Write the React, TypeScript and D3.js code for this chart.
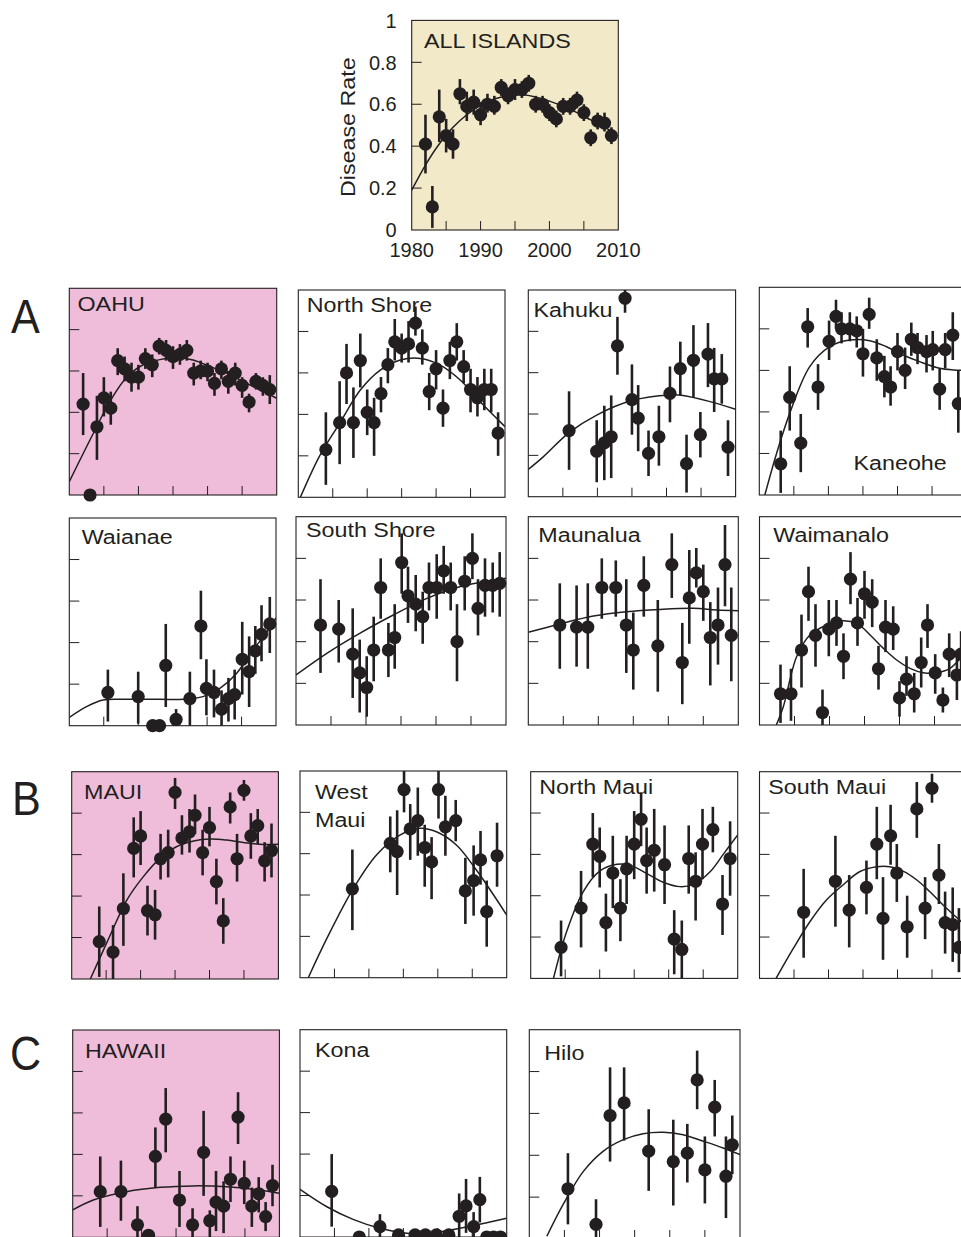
import React, { useEffect, useRef } from 'react';
import * as d3 from 'd3';

// [year, rate, low, high]
type Pt = [number, number, number, number];
type Fit = [number, number][];

const allIslandsPoints: Pt[] = [
  [1982, 0.41, 0.27, 0.55], [1983, 0.11, 0.01, 0.21], [1984, 0.54, 0.42, 0.67], [1985, 0.45, 0.37, 0.53],
  [1986, 0.41, 0.34, 0.48], [1987, 0.65, 0.6, 0.72], [1988, 0.59, 0.52, 0.66], [1989, 0.61, 0.55, 0.67],
  [1990, 0.55, 0.5, 0.61], [1991, 0.6, 0.56, 0.65], [1992, 0.59, 0.55, 0.64], [1993, 0.68, 0.64, 0.72],
  [1994, 0.64, 0.6, 0.68], [1995, 0.67, 0.62, 0.72], [1996, 0.67, 0.63, 0.71], [1997, 0.7, 0.66, 0.74],
  [1998, 0.6, 0.56, 0.64], [1999, 0.6, 0.56, 0.64], [2000, 0.56, 0.52, 0.6], [2001, 0.53, 0.49, 0.57],
  [2002, 0.59, 0.55, 0.63], [2003, 0.59, 0.55, 0.63], [2004, 0.62, 0.58, 0.66], [2005, 0.56, 0.52, 0.6],
  [2006, 0.44, 0.4, 0.48], [2007, 0.52, 0.48, 0.56], [2008, 0.51, 0.47, 0.56], [2009, 0.45, 0.41, 0.49],
];
const allIslandsFit: Fit = [
  [1980, 0.19], [1982, 0.31], [1984, 0.41], [1986, 0.49], [1988, 0.55], [1990, 0.595], [1992, 0.625],
  [1994, 0.64], [1996, 0.645], [1998, 0.635], [2000, 0.615], [2002, 0.59], [2004, 0.56], [2006, 0.525],
  [2008, 0.49], [2009.5, 0.465],
];

const oahuPoints: Pt[] = [
  [1982, 0.44, 0.29, 0.59], [1983, 0.0, 0.0, 0.0], [1984, 0.33, 0.17, 0.48], [1985, 0.47, 0.38, 0.57],
  [1986, 0.42, 0.34, 0.5], [1987, 0.65, 0.58, 0.71], [1988, 0.61, 0.55, 0.67], [1989, 0.57, 0.5, 0.64],
  [1990, 0.57, 0.51, 0.63], [1991, 0.66, 0.61, 0.71], [1992, 0.63, 0.57, 0.68], [1993, 0.72, 0.68, 0.76],
  [1994, 0.7, 0.65, 0.75], [1995, 0.67, 0.61, 0.72], [1996, 0.68, 0.63, 0.73], [1997, 0.7, 0.65, 0.75],
  [1998, 0.59, 0.53, 0.64], [1999, 0.6, 0.56, 0.65], [2000, 0.6, 0.55, 0.64], [2001, 0.54, 0.48, 0.59],
  [2002, 0.61, 0.56, 0.65], [2003, 0.55, 0.49, 0.6], [2004, 0.59, 0.53, 0.64], [2005, 0.53, 0.47, 0.57],
  [2006, 0.45, 0.4, 0.49], [2007, 0.55, 0.51, 0.59], [2008, 0.53, 0.48, 0.57], [2009, 0.51, 0.44, 0.58],
];
const oahuFit: Fit = [
  [1980, 0.065], [1983.5, 0.3], [1986, 0.46], [1988.3, 0.57], [1990.7, 0.63], [1993.1, 0.655],
  [1995.5, 0.665], [1997.9, 0.653], [2000.4, 0.621], [2002.8, 0.589], [2005.2, 0.548], [2010, 0.468],
];

const northShorePoints: Pt[] = [
  [1984, 0.23, 0.06, 0.41], [1986, 0.36, 0.16, 0.56], [1987, 0.6, 0.45, 0.74], [1988, 0.36, 0.19, 0.53],
  [1989, 0.66, 0.53, 0.79], [1990, 0.41, 0.3, 0.52], [1991, 0.36, 0.2, 0.48], [1992, 0.5, 0.41, 0.58],
  [1993, 0.64, 0.55, 0.72], [1994, 0.75, 0.66, 0.86], [1995, 0.72, 0.65, 0.79], [1996, 0.74, 0.65, 0.85],
  [1997, 0.84, 0.78, 0.92], [1998, 0.72, 0.64, 0.81], [1999, 0.51, 0.42, 0.6], [2000, 0.62, 0.52, 0.71],
  [2001, 0.43, 0.34, 0.52], [2002, 0.66, 0.57, 0.75], [2003, 0.75, 0.66, 0.84], [2004, 0.63, 0.55, 0.71],
  [2005, 0.52, 0.41, 0.62], [2006, 0.48, 0.39, 0.58], [2007, 0.52, 0.42, 0.62], [2008, 0.52, 0.41, 0.62],
  [2009, 0.31, 0.2, 0.41],
];
const northShoreFit: Fit = [
  [1980.3, 0.0], [1983.1, 0.2], [1986, 0.357], [1989, 0.518], [1991.9, 0.614], [1994.8, 0.662],
  [1997.7, 0.67], [2000.6, 0.638], [2003.5, 0.566], [2006.4, 0.461], [2010, 0.341],
];

const kahukuPoints: Pt[] = [
  [1985.9, 0.32, 0.13, 0.51], [1989.9, 0.22, 0.07, 0.37], [1991, 0.26, 0.08, 0.44], [1992, 0.29, 0.09, 0.49],
  [1992.9, 0.73, 0.59, 0.87], [1994, 0.96, 0.89, 1.0], [1995, 0.47, 0.3, 0.64], [1995.9, 0.38, 0.22, 0.54],
  [1997.4, 0.21, 0.1, 0.32], [1998.9, 0.29, 0.15, 0.44], [2000.5, 0.5, 0.36, 0.63], [2002, 0.62, 0.49, 0.75],
  [2002.9, 0.16, 0.02, 0.3], [2003.9, 0.66, 0.48, 0.83], [2004.9, 0.3, 0.19, 0.41], [2006, 0.69, 0.53, 0.84],
  [2006.9, 0.57, 0.41, 0.72], [2008, 0.57, 0.45, 0.69], [2008.9, 0.24, 0.1, 0.37],
];
const kahukuFit: Fit = [
  [1980, 0.132], [1982.2, 0.194], [1985.9, 0.31], [1989.9, 0.395], [1995, 0.465], [2000.5, 0.492],
  [2002.4, 0.49], [2006.3, 0.46], [2010, 0.423],
];

const kaneohePoints: Pt[] = [
  [1983.1, 0.15, 0.01, 0.31], [1984.4, 0.47, 0.31, 0.62], [1986, 0.25, 0.11, 0.39], [1987, 0.81, 0.71, 0.9],
  [1988.5, 0.52, 0.41, 0.63], [1990.1, 0.74, 0.65, 0.84], [1991.1, 0.86, 0.8, 0.94], [1991.9, 0.8, 0.73, 0.88],
  [1993.1, 0.8, 0.74, 0.88], [1994.1, 0.79, 0.71, 0.86], [1995, 0.68, 0.57, 0.8], [1995.9, 0.87, 0.8, 0.95],
  [1997, 0.66, 0.55, 0.75], [1998.1, 0.57, 0.47, 0.67], [1999, 0.52, 0.43, 0.62], [2000, 0.69, 0.6, 0.78],
  [2001.1, 0.6, 0.51, 0.71], [2002, 0.75, 0.67, 0.83], [2002.9, 0.71, 0.63, 0.78], [2004.2, 0.69, 0.59, 0.77],
  [2005.1, 0.7, 0.6, 0.79], [2006.1, 0.51, 0.41, 0.61], [2006.9, 0.7, 0.61, 0.78], [2008, 0.77, 0.65, 0.88],
  [2008.8, 0.44, 0.3, 0.6],
];
const kaneoheFit: Fit = [
  [1980.8, 0.0], [1982.5, 0.2], [1984.4, 0.393], [1987.3, 0.618], [1990.2, 0.714], [1993.1, 0.746],
  [1996, 0.743], [1998.4, 0.714], [2000.8, 0.674], [2003.2, 0.642], [2006.1, 0.61], [2008.1, 0.602],
  [2010, 0.6],
];

const waianaePoints: Pt[] = [
  [1985.6, 0.16, 0.02, 0.27], [1990, 0.14, 0.01, 0.26], [1992.1, 0.0, 0.0, 0.0], [1993.1, 0.0, 0.0, 0.0],
  [1994, 0.29, 0.09, 0.49], [1995.5, 0.03, 0.0, 0.08], [1997.5, 0.13, 0.0, 0.26], [1999.1, 0.48, 0.32, 0.65],
  [1999.9, 0.18, 0.05, 0.32], [2001, 0.16, 0.04, 0.27], [2002.1, 0.08, 0.0, 0.17], [2003.1, 0.13, 0.02, 0.23],
  [2004, 0.15, 0.03, 0.27], [2005.1, 0.32, 0.15, 0.5], [2006.1, 0.26, 0.09, 0.43], [2007, 0.36, 0.25, 0.48],
  [2007.9, 0.44, 0.31, 0.58], [2009.1, 0.49, 0.35, 0.62],
];
const waianaeFit: Fit = [
  [1980, 0.04], [1982.5, 0.092], [1984.9, 0.124], [1988.3, 0.127], [1993.2, 0.127], [1996.5, 0.127],
  [1999.4, 0.14], [2001.9, 0.181], [2004.3, 0.253], [2006.7, 0.366], [2008.6, 0.447], [2010, 0.519],
];

const southShorePoints: Pt[] = [
  [1983.5, 0.48, 0.25, 0.7], [1986.1, 0.46, 0.3, 0.6], [1988.1, 0.34, 0.13, 0.56], [1989.1, 0.25, 0.06, 0.41],
  [1990.1, 0.18, 0.04, 0.33], [1991.1, 0.36, 0.21, 0.52], [1992.1, 0.66, 0.51, 0.8], [1993.2, 0.36, 0.23, 0.49],
  [1994.1, 0.42, 0.27, 0.58], [1995.1, 0.78, 0.63, 0.92], [1996, 0.62, 0.49, 0.76], [1997.1, 0.58, 0.45, 0.72],
  [1998.1, 0.52, 0.39, 0.64], [1999, 0.66, 0.55, 0.78], [2000.1, 0.66, 0.51, 0.82], [2001.1, 0.74, 0.63, 0.86],
  [2002.1, 0.66, 0.55, 0.78], [2003, 0.4, 0.21, 0.58], [2004.1, 0.69, 0.55, 0.81], [2005.2, 0.8, 0.7, 0.92],
  [2006, 0.56, 0.43, 0.7], [2007, 0.67, 0.52, 0.8], [2008.1, 0.67, 0.54, 0.78], [2009.1, 0.68, 0.52, 0.83],
];
const southShoreFit: Fit = [
  [1980, 0.24], [1984.4, 0.344], [1989.1, 0.44], [1993.9, 0.528], [1998.7, 0.608], [2003.4, 0.664],
  [2010, 0.704],
];

const maunaluaPoints: Pt[] = [
  [1984.5, 0.48, 0.27, 0.68], [1986.9, 0.47, 0.28, 0.67], [1988.5, 0.47, 0.27, 0.68], [1990.5, 0.66, 0.51, 0.8],
  [1992.5, 0.66, 0.52, 0.79], [1994, 0.48, 0.25, 0.7], [1995, 0.36, 0.17, 0.54], [1996.5, 0.67, 0.52, 0.81],
  [1998.5, 0.38, 0.16, 0.6], [2000.5, 0.77, 0.61, 0.92], [2002, 0.3, 0.1, 0.49], [2003, 0.61, 0.39, 0.84],
  [2004, 0.73, 0.66, 0.85], [2005, 0.64, 0.5, 0.77], [2006, 0.42, 0.19, 0.59], [2007.1, 0.48, 0.29, 0.66],
  [2008.1, 0.77, 0.57, 0.96], [2009, 0.43, 0.21, 0.66],
];
const maunaluaFit: Fit = [
  [1980, 0.445], [1984.5, 0.485], [1989.3, 0.523], [1994, 0.544], [1998.8, 0.555], [2003.6, 0.56],
  [2006.9, 0.552], [2010, 0.549],
];

const waimanaloPoints: Pt[] = [
  [1983, 0.15, 0.01, 0.29], [1984.5, 0.15, 0.02, 0.27], [1986, 0.36, 0.18, 0.53], [1987, 0.64, 0.5, 0.76],
  [1988, 0.43, 0.28, 0.58], [1989, 0.06, 0.0, 0.17], [1989.9, 0.46, 0.33, 0.6], [1991, 0.49, 0.38, 0.6],
  [1992, 0.33, 0.22, 0.44], [1993, 0.7, 0.58, 0.83], [1994, 0.49, 0.38, 0.61], [1995, 0.63, 0.51, 0.74],
  [1996.1, 0.59, 0.47, 0.7], [1997, 0.27, 0.17, 0.38], [1998, 0.47, 0.35, 0.6], [1999.1, 0.46, 0.36, 0.57],
  [2000, 0.13, 0.04, 0.21], [2001, 0.22, 0.14, 0.33], [2002.1, 0.15, 0.06, 0.25], [2003.1, 0.3, 0.18, 0.42],
  [2004, 0.48, 0.37, 0.58], [2005.1, 0.25, 0.15, 0.34], [2006.2, 0.12, 0.06, 0.18], [2007.1, 0.34, 0.23, 0.44],
  [2008.2, 0.24, 0.12, 0.36], [2008.8, 0.34, 0.24, 0.45],
];
const waimanaloFit: Fit = [
  [1982.4, 0.0], [1983.4, 0.088], [1985.3, 0.328], [1987.2, 0.432], [1989.6, 0.48], [1991.6, 0.5],
  [1993.9, 0.488], [1995.8, 0.432], [1997.7, 0.368], [1999.6, 0.312], [2001.5, 0.272], [2003.4, 0.251],
  [2005.3, 0.251], [2007.2, 0.272], [2008.9, 0.328], [2010, 0.37],
];

const mauiPoints: Pt[] = [
  [1984, 0.18, 0.01, 0.35], [1986, 0.13, 0.0, 0.26], [1987.5, 0.34, 0.16, 0.51], [1989, 0.63, 0.49, 0.78],
  [1990, 0.69, 0.55, 0.81], [1991, 0.33, 0.21, 0.45], [1992.1, 0.31, 0.19, 0.43], [1992.9, 0.58, 0.48, 0.7],
  [1994, 0.61, 0.49, 0.72], [1995, 0.9, 0.82, 0.97], [1996, 0.68, 0.6, 0.79], [1997.1, 0.71, 0.61, 0.82],
  [1997.9, 0.79, 0.7, 0.89], [1999, 0.61, 0.5, 0.72], [2000, 0.73, 0.64, 0.83], [2001, 0.47, 0.36, 0.58],
  [2002, 0.28, 0.17, 0.39], [2003, 0.83, 0.75, 0.9], [2004, 0.58, 0.47, 0.7], [2005, 0.91, 0.86, 0.96],
  [2006, 0.69, 0.58, 0.8], [2007, 0.74, 0.65, 0.82], [2008, 0.57, 0.47, 0.66], [2009, 0.62, 0.49, 0.75],
];
const mauiFit: Fit = [
  [1982.7, 0.0], [1985.6, 0.212], [1988, 0.381], [1990.4, 0.494], [1992.8, 0.582], [1995.2, 0.638],
  [1997.7, 0.666], [2000.1, 0.675], [2002.5, 0.67], [2004.9, 0.659], [2007.3, 0.65], [2010, 0.65],
];

const westMauiPoints: Pt[] = [
  [1987.6, 0.43, 0.23, 0.62], [1993.1, 0.65, 0.51, 0.78], [1994.1, 0.61, 0.4, 0.81], [1995.1, 0.91, 0.8, 1.0],
  [1996, 0.72, 0.57, 0.84], [1997.1, 0.76, 0.59, 0.92], [1998.1, 0.63, 0.44, 0.74], [1999.1, 0.56, 0.38, 0.68],
  [2000.1, 0.91, 0.77, 1.0], [2001.1, 0.73, 0.59, 0.88], [2002.6, 0.76, 0.66, 0.86], [2004, 0.42, 0.26, 0.58],
  [2005.2, 0.47, 0.3, 0.64], [2006.2, 0.57, 0.45, 0.71], [2007.1, 0.32, 0.15, 0.47], [2008.6, 0.59, 0.44, 0.75],
];
const westMauiFit: Fit = [
  [1981.2, 0.0], [1983.9, 0.19], [1987.6, 0.424], [1991.1, 0.594], [1994.5, 0.69], [1997.4, 0.723],
  [1999.8, 0.706], [2002.7, 0.642], [2005.6, 0.521], [2008.1, 0.4], [2010, 0.303],
];

const northMauiPoints: Pt[] = [
  [1984.4, 0.15, 0.01, 0.28], [1987.3, 0.34, 0.15, 0.52], [1989, 0.65, 0.49, 0.8], [1990, 0.59, 0.44, 0.73],
  [1990.9, 0.27, 0.13, 0.41], [1991.9, 0.51, 0.34, 0.69], [1993, 0.34, 0.18, 0.48], [1993.9, 0.53, 0.36, 0.69],
  [1995, 0.65, 0.48, 0.81], [1996, 0.77, 0.64, 0.9], [1996.8, 0.57, 0.41, 0.73], [1997.9, 0.62, 0.42, 0.82],
  [1999.4, 0.55, 0.36, 0.74], [2000.8, 0.19, 0.02, 0.33], [2001.9, 0.14, 0.0, 0.28], [2002.9, 0.58, 0.41, 0.74],
  [2003.9, 0.47, 0.28, 0.61], [2004.9, 0.65, 0.48, 0.82], [2006.4, 0.72, 0.61, 0.83], [2007.8, 0.36, 0.21, 0.5],
  [2008.9, 0.58, 0.4, 0.76],
];
const northMauiFit: Fit = [
  [1983.3, 0.0], [1985.2, 0.226], [1987.6, 0.419], [1990, 0.519], [1992.5, 0.552], [1994.4, 0.548],
  [1996.8, 0.508], [1999.2, 0.465], [2001.6, 0.444], [2003.6, 0.455], [2006, 0.516], [2007.9, 0.6],
  [2010, 0.694],
];

const southMauiPoints: Pt[] = [
  [1986.4, 0.32, 0.1, 0.53], [1991, 0.47, 0.25, 0.69], [1993, 0.33, 0.15, 0.5], [1995.5, 0.44, 0.31, 0.57],
  [1997, 0.65, 0.48, 0.83], [1997.9, 0.29, 0.09, 0.49], [1999, 0.69, 0.55, 0.84], [1999.9, 0.51, 0.37, 0.65],
  [2001.4, 0.25, 0.1, 0.4], [2002.8, 0.82, 0.68, 0.95], [2004, 0.34, 0.19, 0.49], [2005, 0.92, 0.85, 0.99],
  [2006, 0.5, 0.36, 0.65], [2006.9, 0.27, 0.12, 0.42], [2008, 0.26, 0.08, 0.44], [2008.9, 0.15, 0.03, 0.34],
];
const southMauiFit: Fit = [
  [1982.4, 0.0], [1984.9, 0.145], [1987.3, 0.274], [1989.7, 0.379], [1992.1, 0.452], [1994.5, 0.516],
  [1997, 0.54], [1998.9, 0.54], [2000.8, 0.519], [2002.8, 0.476], [2004.7, 0.419], [2006.6, 0.355],
  [2009, 0.282], [2010, 0.25],
];

const hawaiiPoints: Pt[] = [
  [1984, 0.22, 0.05, 0.39], [1987, 0.22, 0.08, 0.37], [1989.4, 0.06, 0.0, 0.15], [1991, 0.01, 0.0, 0.01],
  [1992, 0.39, 0.24, 0.53], [1993.5, 0.57, 0.41, 0.72], [1995.5, 0.18, 0.05, 0.32], [1997.4, 0.06, 0.0, 0.14],
  [1999, 0.41, 0.2, 0.61], [1999.9, 0.08, 0.0, 0.13], [2000.8, 0.17, 0.03, 0.32], [2001.9, 0.15, 0.02, 0.27],
  [2002.9, 0.28, 0.17, 0.39], [2004, 0.58, 0.45, 0.7], [2004.9, 0.26, 0.16, 0.37], [2006, 0.15, 0.05, 0.24],
  [2007, 0.21, 0.12, 0.29], [2008, 0.1, 0.03, 0.17], [2009, 0.25, 0.15, 0.35],
];
const hawaiiFit: Fit = [
  [1980, 0.132], [1983, 0.18], [1987.8, 0.22], [1992.7, 0.241], [1997.5, 0.248], [2002.3, 0.244],
  [2006.2, 0.232], [2010, 0.212],
];

const konaPoints: Pt[] = [
  [1984.6, 0.22, 0.05, 0.4], [1988.6, 0.0, 0.0, 0.0], [1991.6, 0.05, 0.0, 0.11], [1994.3, 0.01, 0.0, 0.01],
  [1996.7, 0.01, 0.0, 0.01], [1998.2, 0.01, 0.0, 0.01], [1999.8, 0.01, 0.0, 0.01], [2001.6, 0.01, 0.0, 0.01],
  [2003.1, 0.1, 0.0, 0.21], [2004.1, 0.15, 0.02, 0.28], [2005.2, 0.05, 0.0, 0.12], [2006.1, 0.18, 0.07, 0.29],
  [2007.1, 0.0, 0.0, 0.0], [2008.1, 0.0, 0.0, 0.0], [2009.1, 0.0, 0.0, 0.0],
];
const konaFit: Fit = [
  [1980, 0.23], [1983.9, 0.146], [1987.7, 0.085], [1991.6, 0.042], [1995.5, 0.018], [1999.4, 0.021],
  [2003.2, 0.042], [2007.1, 0.069], [2010, 0.09],
];

const hiloPoints: Pt[] = [
  [1985.5, 0.24, 0.07, 0.41], [1989.5, 0.07, 0.0, 0.19], [1991.5, 0.59, 0.37, 0.82], [1993.5, 0.65, 0.47, 0.82],
  [1997, 0.42, 0.23, 0.62], [2000.5, 0.37, 0.16, 0.57], [2002.5, 0.41, 0.27, 0.55], [2003.9, 0.76, 0.62, 0.9],
  [2005, 0.33, 0.17, 0.49], [2006.4, 0.63, 0.49, 0.76], [2008, 0.3, 0.1, 0.49], [2008.9, 0.45, 0.31, 0.59],
];
const hiloFit: Fit = [
  [1982.5, 0.013], [1984.8, 0.164], [1987.7, 0.323], [1990.5, 0.419], [1993.4, 0.475], [1996.2, 0.503],
  [1999.1, 0.51], [2001.9, 0.498], [2004.8, 0.467], [2007.6, 0.435], [2010, 0.403],
];

const yearLabels = [1980, 1990, 2000, 2010];
const yearTicks = [1985, 1990, 1995, 2000, 2005];
const rateLabels = [0, 0.2, 0.4, 0.6, 0.8, 1];
const rateTicks = [0.2, 0.4, 0.6, 0.8];

const INK = '#231f20';
const PINK = '#efbdd9';
const BEIGE = '#f2e9c8';

// layout: x, y, w, h of the 0..1 x 1980..2010 frame; label lines with their positions
const panels = [
  { id: 'all', points: allIslandsPoints, fit: allIslandsFit, x: 411.7, y: 20.4, w: 206.6, h: 209.6, fill: BEIGE, labels: [['ALL ISLANDS', 424, 47.5]], axes: true },
  { id: 'oahu', points: oahuPoints, fit: oahuFit, x: 69.3, y: 288.3, w: 207.4, h: 206.7, fill: PINK, labels: [['OAHU', 77.5, 310.7]] },
  { id: 'ns', points: northShorePoints, fit: northShoreFit, x: 298.3, y: 290, w: 206.7, h: 207.3, fill: '#fff', labels: [['North Shore', 306.7, 311.7]] },
  { id: 'kahuku', points: kahukuPoints, fit: kahukuFit, x: 528.3, y: 290, w: 207.3, h: 206.7, fill: '#fff', labels: [['Kahuku', 533.5, 316.7]] },
  { id: 'kaneohe', points: kaneohePoints, fit: kaneoheFit, x: 759.3, y: 287.3, w: 207.3, h: 207.7, fill: '#fff', labels: [['Kaneohe', 853.5, 470]] },
  { id: 'waianae', points: waianaePoints, fit: waianaeFit, x: 69.3, y: 518, w: 206.7, h: 207.7, fill: '#fff', labels: [['Waianae', 81.7, 544]] },
  { id: 'ss', points: southShorePoints, fit: southShoreFit, x: 296, y: 516.7, w: 210, h: 208.3, fill: '#fff', labels: [['South Shore', 306, 537.3]] },
  { id: 'maunalua', points: maunaluaPoints, fit: maunaluaFit, x: 528.3, y: 516.7, w: 210, h: 208.3, fill: '#fff', labels: [['Maunalua', 538.3, 542.3]] },
  { id: 'waimanalo', points: waimanaloPoints, fit: waimanaloFit, x: 759.5, y: 516.7, w: 210, h: 208.3, fill: '#fff', labels: [['Waimanalo', 773.3, 542.3]] },
  { id: 'maui', points: mauiPoints, fit: mauiFit, x: 71.7, y: 771.7, w: 206.7, h: 207.3, fill: PINK, labels: [['MAUI', 84, 799.3]] },
  { id: 'wm', points: westMauiPoints, fit: westMauiFit, x: 300, y: 771, w: 206.7, h: 206.7, fill: '#fff', labels: [['West', 315, 799.3], ['Maui', 315, 826.7]] },
  { id: 'nm', points: northMauiPoints, fit: northMauiFit, x: 530.7, y: 771.7, w: 207, h: 206.7, fill: '#fff', labels: [['North Maui', 539.3, 794]] },
  { id: 'sm', points: southMauiPoints, fit: southMauiFit, x: 759.5, y: 771.7, w: 207, h: 206.7, fill: '#fff', labels: [['South Maui', 768.3, 794]] },
  { id: 'hawaii', points: hawaiiPoints, fit: hawaiiFit, x: 72.7, y: 1030, w: 206.7, h: 207.3, fill: PINK, labels: [['HAWAII', 85, 1057.7]] },
  { id: 'kona', points: konaPoints, fit: konaFit, x: 300, y: 1029.7, w: 206.7, h: 207.3, fill: '#fff', labels: [['Kona', 315, 1056.7]] },
  { id: 'hilo', points: hiloPoints, fit: hiloFit, x: 529.3, y: 1029.7, w: 210.7, h: 209.3, fill: '#fff', labels: [['Hilo', 544.3, 1060]] },
];

const rowLetters: [string, number, number][] = [['A', 11, 333], ['B', 12, 815], ['C', 10, 1070]];

const FONT = '"Liberation Sans", Arial, Helvetica, sans-serif';

function App() {
  const ref = useRef<SVGSVGElement>(null);

  useEffect(() => {
    const svg = d3.select(ref.current);
    svg.selectAll('*').remove();

    panels.forEach((p: any) => {
      const x = d3.scaleLinear().domain([1980, 2010]).range([p.x, p.x + p.w]);
      const y = d3.scaleLinear().domain([0, 1]).range([p.y + p.h, p.y]);
      const g = svg.append('g');

      g.append('rect')
        .attr('x', p.x).attr('y', p.y).attr('width', p.w).attr('height', p.h)
        .attr('fill', p.fill);

      svg.append('clipPath').attr('id', 'clip-' + p.id)
        .append('rect').attr('x', p.x).attr('y', p.y).attr('width', p.w).attr('height', p.h);

      // inward ticks
      rateTicks.forEach(t => {
        g.append('line')
          .attr('x1', p.x).attr('x2', p.x + 10)
          .attr('y1', y(t)).attr('y2', y(t))
          .attr('stroke', INK).attr('stroke-width', 1);
      });
      yearTicks.forEach(t => {
        g.append('line')
          .attr('x1', x(t)).attr('x2', x(t))
          .attr('y1', p.y + p.h).attr('y2', p.y + p.h - 9)
          .attr('stroke', INK).attr('stroke-width', 1);
      });

      const line = d3.line<[number, number]>()
        .x(d => x(d[0])).y(d => y(d[1]))
        .curve(d3.curveCatmullRom.alpha(0.5));
      g.append('path')
        .attr('d', line(p.fit))
        .attr('fill', 'none').attr('stroke', INK).attr('stroke-width', 1.5)
        .attr('clip-path', 'url(#clip-' + p.id + ')');

      g.selectAll('line.err').data(p.points.filter((d: Pt) => d[3] - d[2] > 0.02)).enter()
        .append('line').attr('class', 'err')
        .attr('x1', (d: Pt) => x(d[0])).attr('x2', (d: Pt) => x(d[0]))
        .attr('y1', (d: Pt) => y(d[2])).attr('y2', (d: Pt) => y(d[3]))
        .attr('stroke', INK).attr('stroke-width', 2.6);

      g.selectAll('circle').data(p.points).enter()
        .append('circle')
        .attr('cx', (d: Pt) => x(d[0])).attr('cy', (d: Pt) => y(d[1]))
        .attr('r', 6.6).attr('fill', INK);

      g.append('rect')
        .attr('x', p.x).attr('y', p.y).attr('width', p.w).attr('height', p.h)
        .attr('fill', 'none').attr('stroke', INK).attr('stroke-width', 1.1);

      p.labels.forEach((l: [string, number, number]) => {
        g.append('text')
          .attr('transform', `translate(${l[1]},${l[2]}) scale(1.11,1)`)
          .attr('font-family', FONT).attr('font-size', 21).attr('fill', INK)
          .text(l[0]);
      });

      if (p.axes) {
        rateLabels.forEach(t => {
          g.append('text')
            .attr('x', p.x - 15).attr('y', y(t)).attr('dy', '0.36em')
            .attr('text-anchor', 'end')
            .attr('font-family', FONT).attr('font-size', 20).attr('fill', INK)
            .text(d3.format('~g')(t));
        });
        yearLabels.forEach(t => {
          g.append('text')
            .attr('x', x(t)).attr('y', p.y + p.h + 27)
            .attr('text-anchor', 'middle')
            .attr('font-family', FONT).attr('font-size', 20).attr('fill', INK)
            .text(String(t));
        });
        g.append('text')
          .attr('transform', `translate(355,${p.y + p.h / 2 + 2}) rotate(-90) scale(1.11,1)`)
          .attr('text-anchor', 'middle')
          .attr('font-family', FONT).attr('font-size', 21).attr('fill', INK)
          .text('Disease Rate');
      }
    });

    rowLetters.forEach(([t, lx, ly]) => {
      svg.append('text')
        .attr('transform', `translate(${lx},${ly}) scale(0.88,1)`)
        .attr('font-family', FONT).attr('font-size', 49).attr('fill', INK)
        .text(t);
    });
  }, []);

  return (
    <svg
      ref={ref}
      width={961}
      height={1237}
      style={{ position: 'absolute', left: 0, top: 0, display: 'block', background: '#fff' }}
    />
  );
}

export default App;
